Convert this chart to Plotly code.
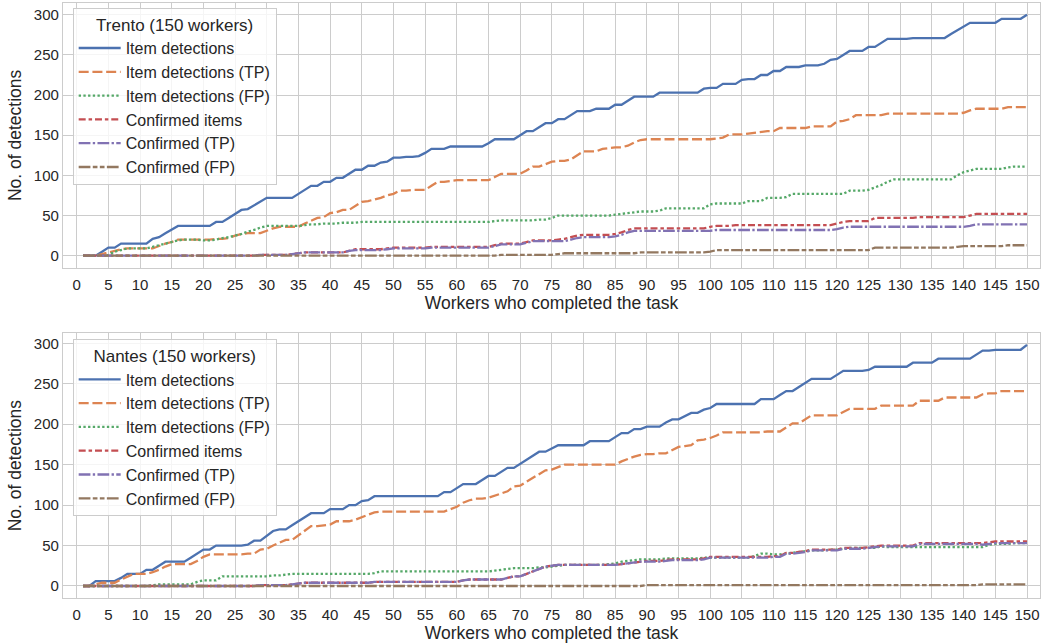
import plotly.graph_objects as go
from plotly.subplots import make_subplots

workers = list(range(1, 151))

series_names = ["Item detections", "Item detections (TP)", "Item detections (FP)",
                "Confirmed items", "Confirmed (TP)", "Confirmed (FP)"]

# ---------------- Trento ----------------
trento_items = [
    0, 0, 0, 5, 10, 10, 15, 15, 15, 15,
    15, 21, 23, 28, 33, 37, 37, 37, 37, 37,
    37, 42, 42, 47, 52, 57, 58, 63, 68, 72,
    72, 72, 72, 72, 77, 82, 87, 87, 92, 92,
    97, 97, 102, 107, 107, 112, 112, 116, 117, 122,
    122, 123, 123, 124, 128, 133, 133, 133, 136, 136,
    136, 136, 136, 136, 140, 145, 145, 145, 145, 150,
    155, 155, 160, 165, 165, 170, 170, 175, 180, 180,
    180, 183, 183, 183, 188, 188, 193, 198, 198, 198,
    198, 203, 203, 203, 203, 203, 203, 203, 208, 209,
    209, 214, 214, 214, 219, 220, 220, 225, 225, 230,
    230, 235, 235, 235, 237, 237, 237, 239, 244, 245,
    250, 255, 255, 255, 260, 260, 265, 270, 270, 270,
    270, 271, 271, 271, 271, 271, 271, 276, 281, 286,
    290, 290, 290, 290, 290, 295, 295, 295, 295, 300]
trento_items_tp = [
    0, 0, 0, 2, 4, 6, 8, 9, 9, 9,
    9, 9, 12, 15, 17, 20, 20, 20, 20, 20,
    20, 21, 21, 22, 25, 27, 28, 28, 28, 31,
    34, 36, 36, 36, 36, 40, 44, 47, 48, 53,
    54, 57, 57, 62, 67, 68, 70, 72, 75, 77,
    81, 81, 82, 82, 82, 87, 92, 92, 93, 94,
    94, 94, 94, 94, 94, 98, 102, 102, 102, 102,
    106, 111, 111, 114, 117, 118, 118, 120, 125, 130,
    130, 130, 133, 134, 135, 135, 137, 141, 144, 145,
    145, 145, 145, 145, 145, 145, 145, 145, 145, 145,
    146, 147, 151, 151, 151, 152, 153, 154, 155, 155,
    159, 159, 159, 159, 159, 161, 161, 161, 161, 167,
    168, 170, 175, 175, 175, 175, 175, 177, 177, 177,
    177, 177, 177, 177, 177, 177, 177, 177, 177, 178,
    181, 183, 183, 183, 183, 183, 185, 185, 185, 185]
trento_items_fp = [
    0, 0, 0, 0, 1, 5, 7, 9, 9, 9,
    9, 11, 13, 15, 17, 19, 20, 20, 20, 19,
    19, 20, 22, 23, 25, 27, 30, 32, 35, 37,
    37, 37, 37, 37, 37, 38, 39, 39, 40, 40,
    40, 41, 41, 41, 42, 42, 42, 42, 42, 42,
    42, 42, 42, 42, 42, 42, 42, 42, 42, 42,
    42, 42, 42, 42, 42, 43, 44, 44, 44, 44,
    44, 44, 45, 45, 47, 50, 50, 50, 50, 50,
    50, 50, 50, 50, 51, 52, 53, 54, 55, 55,
    55, 56, 59, 59, 59, 59, 59, 59, 59, 64,
    65, 65, 65, 65, 65, 68, 68, 68, 72, 72,
    72, 73, 77, 77, 77, 77, 77, 77, 77, 77,
    77, 81, 81, 81, 82, 85, 88, 92, 95, 95,
    95, 95, 95, 95, 95, 95, 95, 95, 100, 104,
    106, 108, 108, 108, 108, 108, 110, 111, 111, 111]
trento_confirmed = [
    0, 0, 0, 0, 0, 0, 0, 0, 0, 0,
    0, 0, 0, 0, 0, 0, 0, 0, 0, 0,
    0, 0, 0, 0, 0, 0, 0, 0, 1, 1,
    1, 1, 1, 2, 3, 4, 4, 4, 4, 4,
    4, 4, 6, 8, 8, 8, 8, 8, 9, 10,
    10, 10, 10, 10, 10, 11, 11, 11, 11, 11,
    11, 11, 11, 11, 11, 13, 15, 15, 15, 15,
    17, 19, 19, 19, 19, 20, 21, 23, 25, 26,
    26, 26, 26, 26, 27, 29, 32, 34, 34, 34,
    34, 34, 34, 34, 34, 34, 34, 34, 34, 36,
    37, 37, 37, 38, 38, 38, 38, 38, 38, 38,
    38, 38, 38, 38, 38, 38, 38, 38, 38, 40,
    42, 43, 43, 43, 43, 47, 47, 47, 47, 47,
    47, 47, 48, 48, 48, 48, 48, 48, 48, 48,
    50, 52, 52, 52, 52, 52, 52, 52, 52, 52]
trento_confirmed_tp = [
    0, 0, 0, 0, 0, 0, 0, 0, 0, 0,
    0, 0, 0, 0, 0, 0, 0, 0, 0, 0,
    0, 0, 0, 0, 0, 0, 0, 0, 1, 1,
    1, 1, 1, 2, 3, 4, 4, 4, 4, 4,
    4, 4, 6, 7, 7, 7, 7, 7, 8, 9,
    9, 9, 9, 9, 9, 10, 10, 10, 10, 10,
    10, 10, 10, 10, 10, 12, 14, 14, 14, 14,
    16, 18, 18, 18, 18, 18, 18, 20, 22, 23,
    23, 23, 23, 23, 24, 26, 29, 31, 31, 31,
    31, 31, 31, 31, 31, 31, 31, 31, 31, 31,
    32, 32, 32, 32, 32, 32, 32, 32, 32, 32,
    32, 32, 32, 32, 32, 32, 32, 32, 32, 33,
    35, 36, 36, 36, 36, 36, 36, 36, 36, 36,
    36, 36, 36, 36, 36, 36, 36, 36, 36, 36,
    37, 39, 39, 39, 39, 39, 39, 39, 39, 39]
trento_confirmed_fp = [
    0, 0, 0, 0, 0, 0, 0, 0, 0, 0,
    0, 0, 0, 0, 0, 0, 0, 0, 0, 0,
    0, 0, 0, 0, 0, 0, 0, 0, 0, 0,
    0, 0, 0, 0, 0, 0, 0, 0, 0, 0,
    0, 0, 0, 0, 0, 0, 0, 0, 0, 0,
    0, 0, 0, 0, 0, 0, 0, 0, 0, 0,
    0, 0, 0, 0, 0, 0, 1, 1, 1, 1,
    1, 1, 1, 1, 1, 2, 3, 3, 3, 3,
    3, 3, 3, 3, 3, 3, 3, 3, 4, 4,
    4, 4, 4, 4, 4, 4, 4, 4, 4, 5,
    7, 7, 7, 7, 7, 7, 7, 7, 7, 7,
    7, 7, 7, 7, 7, 7, 7, 7, 7, 7,
    7, 7, 7, 7, 7, 10, 10, 10, 10, 10,
    10, 10, 10, 10, 10, 10, 10, 10, 11, 12,
    12, 12, 12, 12, 12, 12, 13, 13, 13, 13]

# ---------------- Nantes ----------------
nantes_items = [
    0, 0, 6, 6, 6, 6, 10, 15, 15, 15,
    20, 20, 25, 30, 30, 30, 30, 35, 40, 45,
    45, 50, 50, 50, 50, 50, 51, 56, 56, 62,
    68, 70, 70, 75, 80, 85, 90, 90, 90, 95,
    95, 95, 100, 100, 105, 106, 111, 111, 111, 111,
    111, 111, 111, 111, 111, 111, 111, 116, 116, 121,
    126, 126, 126, 131, 136, 136, 141, 146, 146, 151,
    156, 161, 166, 166, 170, 174, 174, 174, 174, 174,
    179, 179, 179, 179, 184, 189, 189, 194, 194, 197,
    197, 197, 202, 206, 206, 210, 214, 214, 218, 220,
    225, 225, 225, 225, 225, 225, 225, 231, 231, 231,
    236, 241, 241, 246, 251, 256, 256, 256, 256, 261,
    266, 266, 266, 266, 267, 271, 271, 271, 271, 271,
    271, 276, 276, 276, 276, 281, 281, 281, 281, 281,
    281, 286, 291, 291, 292, 292, 292, 292, 292, 298]
nantes_items_tp = [
    0, 0, 2, 4, 4, 4, 8, 12, 15, 15,
    15, 17, 20, 24, 27, 27, 27, 27, 31, 36,
    39, 39, 39, 39, 39, 39, 40, 40, 45, 46,
    50, 54, 57, 57, 63, 69, 74, 74, 75, 76,
    80, 80, 80, 82, 85, 88, 91, 92, 92, 92,
    92, 92, 92, 92, 92, 92, 92, 92, 95, 98,
    103, 106, 108, 108, 109, 112, 115, 117, 123, 124,
    129, 134, 139, 143, 144, 147, 150, 150, 150, 150,
    150, 150, 150, 150, 150, 154, 157, 160, 162, 163,
    163, 164, 164, 168, 172, 173, 174, 180, 181, 183,
    186, 190, 190, 190, 190, 190, 190, 190, 191, 191,
    191, 196, 201, 201, 206, 211, 211, 211, 211, 211,
    215, 219, 219, 219, 219, 219, 223, 223, 223, 223,
    223, 223, 229, 229, 229, 229, 233, 233, 233, 233,
    233, 233, 237, 238, 238, 241, 241, 241, 241, 241]
nantes_items_fp = [
    0, 0, 0, 0, 0, 0, 0, 0, 0, 0,
    0, 1, 2, 2, 2, 2, 2, 2, 5, 7,
    7, 7, 12, 12, 12, 12, 12, 12, 12, 12,
    13, 13, 14, 15, 15, 15, 15, 15, 15, 15,
    15, 15, 15, 15, 15, 15, 16, 18, 18, 18,
    18, 18, 18, 18, 18, 18, 18, 18, 18, 18,
    18, 18, 18, 18, 18, 19, 20, 21, 22, 22,
    22, 22, 23, 23, 24, 25, 26, 26, 26, 26,
    26, 26, 26, 27, 28, 30, 31, 32, 33, 33,
    33, 33, 34, 34, 34, 34, 34, 34, 35, 35,
    35, 35, 35, 35, 35, 35, 37, 40, 40, 39,
    39, 40, 41, 42, 43, 44, 44, 44, 45, 45,
    46, 47, 47, 47, 47, 47, 49, 48, 48, 48,
    48, 48, 48, 48, 48, 48, 48, 48, 48, 48,
    48, 48, 48, 51, 52, 52, 52, 53, 53, 53]
nantes_confirmed = [
    0, 0, 0, 0, 0, 0, 0, 0, 0, 0,
    0, 0, 0, 0, 0, 0, 0, 0, 0, 0,
    0, 0, 0, 0, 0, 0, 0, 0, 1, 1,
    1, 1, 1, 2, 3, 4, 4, 4, 4, 4,
    4, 4, 4, 4, 4, 4, 5, 5, 5, 5,
    5, 5, 5, 5, 5, 5, 5, 5, 5, 5,
    7, 8, 8, 8, 8, 8, 8, 10, 12, 12,
    15, 18, 21, 24, 25, 26, 26, 26, 26, 26,
    26, 26, 26, 26, 26, 27, 28, 29, 30, 31,
    31, 31, 32, 33, 33, 33, 33, 33, 34, 36,
    36, 36, 36, 36, 36, 36, 36, 36, 36, 37,
    37, 41, 41, 42, 43, 45, 45, 45, 45, 45,
    47, 47, 47, 47, 48, 49, 50, 50, 50, 50,
    50, 50, 53, 53, 53, 53, 53, 53, 53, 53,
    53, 53, 53, 54, 55, 55, 55, 55, 55, 55]
nantes_confirmed_tp = [
    0, 0, 0, 0, 0, 0, 0, 0, 0, 0,
    0, 0, 0, 0, 0, 0, 0, 0, 0, 0,
    0, 0, 0, 0, 0, 0, 0, 0, 1, 1,
    1, 1, 1, 2, 3, 4, 4, 4, 4, 4,
    4, 4, 4, 4, 4, 4, 5, 5, 5, 5,
    5, 5, 5, 5, 5, 5, 5, 5, 5, 5,
    7, 8, 8, 8, 8, 8, 8, 10, 12, 12,
    15, 18, 21, 24, 25, 26, 26, 26, 26, 26,
    26, 26, 26, 26, 26, 27, 28, 29, 30, 30,
    30, 30, 31, 32, 32, 32, 32, 32, 33, 35,
    35, 35, 35, 35, 35, 35, 35, 35, 35, 36,
    36, 40, 40, 41, 42, 44, 44, 44, 44, 44,
    46, 46, 46, 46, 47, 48, 49, 49, 49, 49,
    49, 49, 52, 52, 52, 52, 52, 52, 52, 52,
    52, 52, 51, 52, 53, 53, 53, 53, 53, 53]
nantes_confirmed_fp = [
    0, 0, 0, 0, 0, 0, 0, 0, 0, 0,
    0, 0, 0, 0, 0, 0, 0, 0, 0, 0,
    0, 0, 0, 0, 0, 0, 0, 0, 0, 0,
    0, 0, 0, 0, 0, 0, 0, 0, 0, 0,
    0, 0, 0, 0, 0, 0, 0, 0, 0, 0,
    0, 0, 0, 0, 0, 0, 0, 0, 0, 0,
    0, 0, 0, 0, 0, 0, 0, 0, 0, 0,
    0, 0, 0, 0, 0, 0, 0, 0, 0, 0,
    0, 0, 0, 0, 0, 0, 0, 0, 0, 1,
    1, 1, 1, 1, 1, 1, 1, 1, 1, 1,
    1, 1, 1, 1, 1, 1, 1, 1, 1, 1,
    1, 1, 1, 1, 1, 1, 1, 1, 1, 1,
    1, 1, 1, 1, 1, 1, 1, 1, 1, 1,
    1, 1, 1, 1, 1, 1, 1, 1, 1, 1,
    1, 1, 2, 2, 2, 2, 2, 2, 2, 2]

x_ticks = list(range(0, 151, 5))
y_ticks = list(range(0, 301, 50))

colors = ["#4C72B0", "#DD8452", "#55A868", "#C44E52", "#8172B3", "#937860"]
dashes = ["solid", "10px,3.75px", "2.35px,2.35px", "7px,2.9px,3.5px,2.9px",
          "11.75px,2.35px,2.35px,2.35px", "11.75px,2.35px,4.7px,2.35px,4.7px,2.35px"]
LW = 2.3
FONT = "Liberation Sans, Arial, Helvetica, sans-serif"
TXT = "#262626"
GRID = "#cccccc"

fig = make_subplots(rows=2, cols=1)

trento = [trento_items, trento_items_tp, trento_items_fp,
          trento_confirmed, trento_confirmed_tp, trento_confirmed_fp]
nantes = [nantes_items, nantes_items_tp, nantes_items_fp,
          nantes_confirmed, nantes_confirmed_tp, nantes_confirmed_fp]

for row, data, leg in [(1, trento, "legend"), (2, nantes, "legend2")]:
    for name, vals, c, d in zip(series_names, data, colors, dashes):
        fig.add_trace(go.Scatter(x=workers, y=vals, mode="lines", name=name,
                                 line=dict(color=c, width=LW, dash=d),
                                 legend=leg, hoverinfo="x+y+name"),
                      row=row, col=1)

axis_common = dict(showgrid=True, gridcolor=GRID, gridwidth=1, zeroline=False,
                   showline=True, linecolor=GRID, linewidth=1.3, mirror=True,
                   ticks="", tickfont=dict(family=FONT, size=15, color=TXT),
                   title_font=dict(family=FONT, size=17.5, color=TXT))

fig.update_xaxes(**axis_common, tickmode="array", tickvals=x_ticks,
                 range=[-2.16, 152.05], ticklabelstandoff=3,
                 title_text="Workers who completed the task", title_standoff=1)
fig.update_yaxes(**axis_common, tickmode="array", tickvals=y_ticks,
                 title_text="No. of detections", title_standoff=7)
fig.update_yaxes(range=[-15, 314.7], domain=[0.5551, 1.0], row=1, col=1)
fig.update_yaxes(range=[-14.85, 312.4], domain=[0.0, 0.4449], row=2, col=1)

legend_common = dict(bgcolor="rgba(255,255,255,0.8)", bordercolor=GRID, borderwidth=1,
                     font=dict(family=FONT, size=16, color=TXT),
                     xanchor="left", yanchor="top", itemwidth=42,
                     tracegroupgap=0)

fig.update_layout(
    width=1048, height=644,
    margin=dict(l=63, r=8, t=3, b=46),
    paper_bgcolor="white", plot_bgcolor="white",
    font=dict(family=FONT, color=TXT),
    showlegend=True,
    legend=dict(**legend_common, x=0.0099, y=0.9916,
                title=dict(text="Trento (150 workers)", side="top center",
                           font=dict(family=FONT, size=17, color=TXT))),
    legend2=dict(**legend_common, x=0.0099, y=0.4348,
                 title=dict(text="Nantes (150 workers)", side="top center",
                            font=dict(family=FONT, size=17, color=TXT))),
)

fig.write_html("out.html")
